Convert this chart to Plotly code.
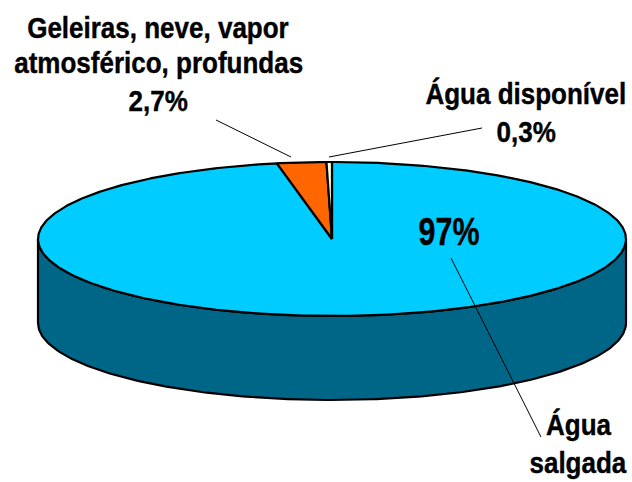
import numpy as np
import plotly.graph_objects as go

categories = ["Água salgada", "Geleiras, neve, vapor atmosférico, profundas", "Água disponível"]
shares = [97.0, 2.7, 0.3]
top_colors = ["#00CCFF", "#FF6600", "#FFFFCC"]
side_color = "#006688"

CX, CY, RX, RY, DEPTH = 332, 239, 294, 77, 84
FONT = "Liberation Sans, Arial, sans-serif"


def ell(t):
    # t = share-based angle measured clockwise from 12 o'clock (radians)
    return CX + RX * np.sin(t), CY - RY * np.cos(t)


fig = go.Figure()
line = dict(color="black", width=2.2)

# Side wall: the visible lower half of the ellipse, pushed down by DEPTH
t = np.linspace(np.pi / 2, 3 * np.pi / 2, 240)
x, y = ell(t)
fig.add_trace(go.Scatter(
    x=np.concatenate([x, x[::-1], x[:1]]),
    y=np.concatenate([y, y[::-1] + DEPTH, y[:1]]),
    mode="lines", fill="toself", fillcolor=side_color, line=line, hoverinfo="skip"))

# Top face slices, from 12 o'clock clockwise
start = 0.0
total = sum(shares)
for share, color in zip(shares, top_colors):
    end = start + share / total * 2 * np.pi
    t = np.linspace(start, end, max(3, int(share * 6)))
    x, y = ell(t)
    fig.add_trace(go.Scatter(
        x=np.concatenate([[CX], x, [CX]]),
        y=np.concatenate([[CY], y, [CY]]),
        mode="lines", fill="toself", fillcolor=color, line=line, hoverinfo="skip"))
    start = end

# Leader lines
leaders = [((216, 120), (291, 157)), ((329, 157), (482, 128)), ((451, 258), (541, 437))]
for a, b in leaders:
    fig.add_shape(type="line", x0=a[0], y0=a[1], x1=b[0], y1=b[1],
                  line=dict(color="black", width=1))

labels = [
    ("Geleiras, neve, vapor", 158, 27, 30),
    ("atmosférico, profundas", 158, 62, 30),
    ("2,7%", 158, 100, 30),
    ("Água disponível", 526, 93, 30),
    ("0,3%", 526, 131, 30),
    ("97%", 449, 232, 38),
    ("Água", 578, 424, 30),
    ("salgada", 578, 462, 30),
]
for text, lx, ly, size in labels:
    fig.add_annotation(x=lx, y=ly, text=f"<b>{text}</b>", showarrow=False,
                       xanchor="center", yanchor="middle",
                       font=dict(family=FONT, size=size, color="black"))

fig.update_layout(
    width=632, height=482, margin=dict(l=0, r=0, t=0, b=0),
    paper_bgcolor="white", plot_bgcolor="white", showlegend=False,
    xaxis=dict(range=[0, 632], visible=False, fixedrange=True),
    yaxis=dict(range=[482, 0], visible=False, fixedrange=True),
)

# Remove page margin and condense the label glyphs (the reference uses a narrow bold face)
post = """
document.body.style.margin = '0';
document.querySelectorAll('.annotation-text').forEach(function (el) {
  var b = el.getBBox();
  var cx = b.x + b.width / 2;
  var s = el.textContent === '97%' ? 0.8 : 0.867;
  el.setAttribute('transform', 'translate(' + cx + ' 0) scale(' + s + ' 1) translate(' + (-cx) + ' 0)');
  el.style.stroke = 'black';
  el.style.strokeWidth = '0.4px';
});
"""
fig.write_html("out.html", config={"displayModeBar": False}, post_script=post)
